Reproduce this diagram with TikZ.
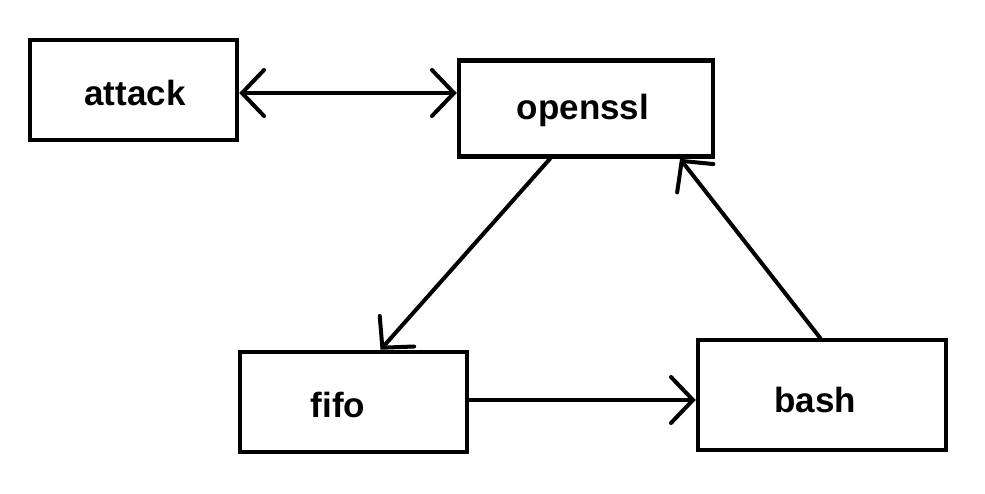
\documentclass[tikz,border=0pt]{standalone}
\usepackage{fontspec}
\setmainfont{Liberation Sans}
\usepackage{tikz}
\usetikzlibrary{arrows.meta,calc,positioning}
\tikzset{box/.style={draw,line width=4.5pt,inner sep=0pt},
	lbl/.style={font=\fontsize{35}{40}\selectfont\bfseries},
	link/.style={line width=4pt,line cap=round}}

\begin{document}
\begin{tikzpicture}[x=1pt,y=-1pt,>={Straight Barb[length=22pt,width=46pt,line width=4pt,line cap=round]}]
	\useasboundingbox (0,0) rectangle (985,493);
	
	\node[box, minimum width=207pt, minimum height=100pt] (attack) at (133.5,90) {};
	\node[box, minimum width=254pt, minimum height=96pt] (openssl) at (586,108.5) {};
	\node[box, minimum width=227pt, minimum height=100pt] (fifo) at (353.5,402) {};
	\node[box, minimum width=248pt, minimum height=110pt] (bash) at (822,395) {};
	
	\node[lbl] (attacktxt) at (135,93) {attack};
	\node[lbl] (openssltxt) at (583,110) {openssl};
	\node[lbl] (fifotxt) at (338,405) {fifo};
	\node[lbl] (bashtxt) at (815,400) {bash};
	
	\draw[link,<->] ([yshift=-3pt]attack.east) -- ([yshift=15.5pt]openssl.west);
	
	\draw[link,->] ([xshift=-36pt]openssl.south) -- ([xshift=27pt]fifo.north);
	
	\draw[link,->] ([yshift=2pt]fifo.east) -- ([yshift=-5pt]bash.west);
	
	\draw[link,->] ([xshift=-2pt]bash.north) -- ([xshift=94pt]openssl.south);
\end{tikzpicture}
\end{document}
